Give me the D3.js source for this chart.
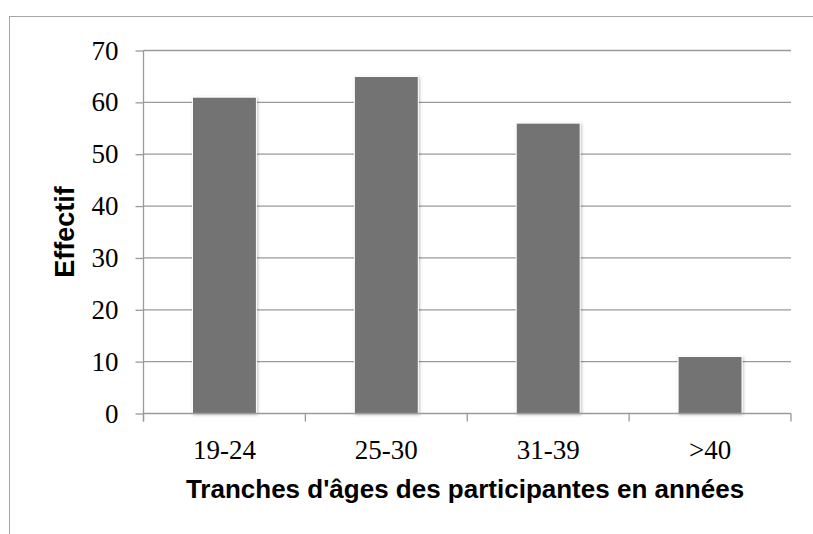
<!DOCTYPE html>
<html>
<head>
<meta charset="utf-8">
<script src="https://cdn.jsdelivr.net/npm/d3@7"></script>
<style>
  body { margin: 0; background: #fff; }
  svg { display: block; }
</style>
</head>
<body>
<script>
"use strict";

// Age brackets and head counts.
const categories = ["19-24", "25-30", "31-39", ">40"];
const counts = [61, 65, 56, 11];
const yTicks = [0, 10, 20, 30, 40, 50, 60, 70];

const width = 813;
const height = 534;
const margin = {top: 50.5, right: 22, bottom: 120.5, left: 143.5};

const svg = d3.select("body").append("svg")
    .attr("width", width)
    .attr("height", height);

// shadow under the bars
const shadow = svg.append("defs").append("filter")
    .attr("id", "shadow")
    .attr("x", "-20%").attr("y", "-20%")
    .attr("width", "140%").attr("height", "140%");
shadow.append("feDropShadow")
    .attr("dx", 1).attr("dy", 1)
    .attr("stdDeviation", 1.5)
    .attr("flood-color", "#000")
    .attr("flood-opacity", 0.25);

// outer frame
svg.append("rect")
    .attr("x", 9.5).attr("y", 16.5)
    .attr("width", 820).attr("height", 540)
    .attr("fill", "none")
    .attr("stroke", "#a6a6a6")
    .attr("stroke-width", 1);

const x = d3.scaleBand()
    .domain(categories)
    .range([margin.left, width - margin.right])
    .padding(0);

const y = d3.scaleLinear()
    .domain([0, 70])
    .range([height - margin.bottom, margin.top]);

// gridlines
svg.append("g")
    .selectAll("line")
    .data(yTicks.filter(d => d > 0))
    .enter().append("line")
    .attr("x1", margin.left)
    .attr("x2", width - margin.right)
    .attr("y1", d => y(d))
    .attr("y2", d => y(d))
    .attr("stroke", "#9a9a9a")
    .attr("stroke-width", 1.3);

// bars
const barWidth = x.bandwidth() * 0.395;
svg.append("g")
    .selectAll("rect")
    .data(counts)
    .enter().append("rect")
    .attr("x", (d, i) => x(categories[i]) + (x.bandwidth() - barWidth) / 2)
    .attr("y", d => y(d))
    .attr("width", barWidth)
    .attr("height", d => y(0) - y(d))
    .attr("fill", "#737373")
    .attr("stroke", "#fff")
    .attr("stroke-width", 1)
    .attr("filter", "url(#shadow)");

// y axis
const yAxis = svg.append("g")
    .attr("transform", `translate(${margin.left},0)`)
    .call(d3.axisLeft(y).tickValues(yTicks).tickSize(8).tickPadding(17));
yAxis.selectAll("line, path").attr("stroke", "#9a9a9a").attr("stroke-width", 1.3);
yAxis.select(".domain").attr("d", `M0,${y(0) + 8}V${y(70)}`);
yAxis.selectAll("text")
    .attr("font-family", "'Liberation Serif', 'DejaVu Serif', serif")
    .attr("font-size", 27)
    .attr("fill", "#000");

// x axis, ticks sit on the band boundaries
const xAxis = svg.append("g")
    .attr("transform", `translate(0,${y(0)})`);
xAxis.append("line")
    .attr("x1", margin.left).attr("x2", width - margin.right)
    .attr("stroke", "#9a9a9a").attr("stroke-width", 1.3);
xAxis.selectAll(".tick")
    .data(categories.map(c => x(c)).concat([width - margin.right]))
    .enter().append("line")
    .attr("x1", d => d).attr("x2", d => d)
    .attr("y1", 0).attr("y2", 8)
    .attr("stroke", "#9a9a9a").attr("stroke-width", 1.3);
xAxis.selectAll("text")
    .data(categories)
    .enter().append("text")
    .attr("x", d => x(d) + x.bandwidth() / 2)
    .attr("y", 45)
    .attr("text-anchor", "middle")
    .attr("font-family", "'Liberation Serif', 'DejaVu Serif', serif")
    .attr("font-size", 27)
    .text(d => d);

// axis titles
svg.append("text")
    .attr("x", 465)
    .attr("y", 498)
    .attr("text-anchor", "middle")
    .attr("font-family", "'Liberation Sans', Arial, sans-serif")
    .attr("font-weight", "bold")
    .attr("font-size", 26)
    .text("Tranches d'âges des participantes en années");

svg.append("text")
    .attr("transform", `translate(74,${(y(0) + y(70)) / 2}) rotate(-90)`)
    .attr("text-anchor", "middle")
    .attr("font-family", "'Liberation Sans', Arial, sans-serif")
    .attr("font-weight", "bold")
    .attr("font-size", 27)
    .text("Effectif");
</script>
</body>
</html>
